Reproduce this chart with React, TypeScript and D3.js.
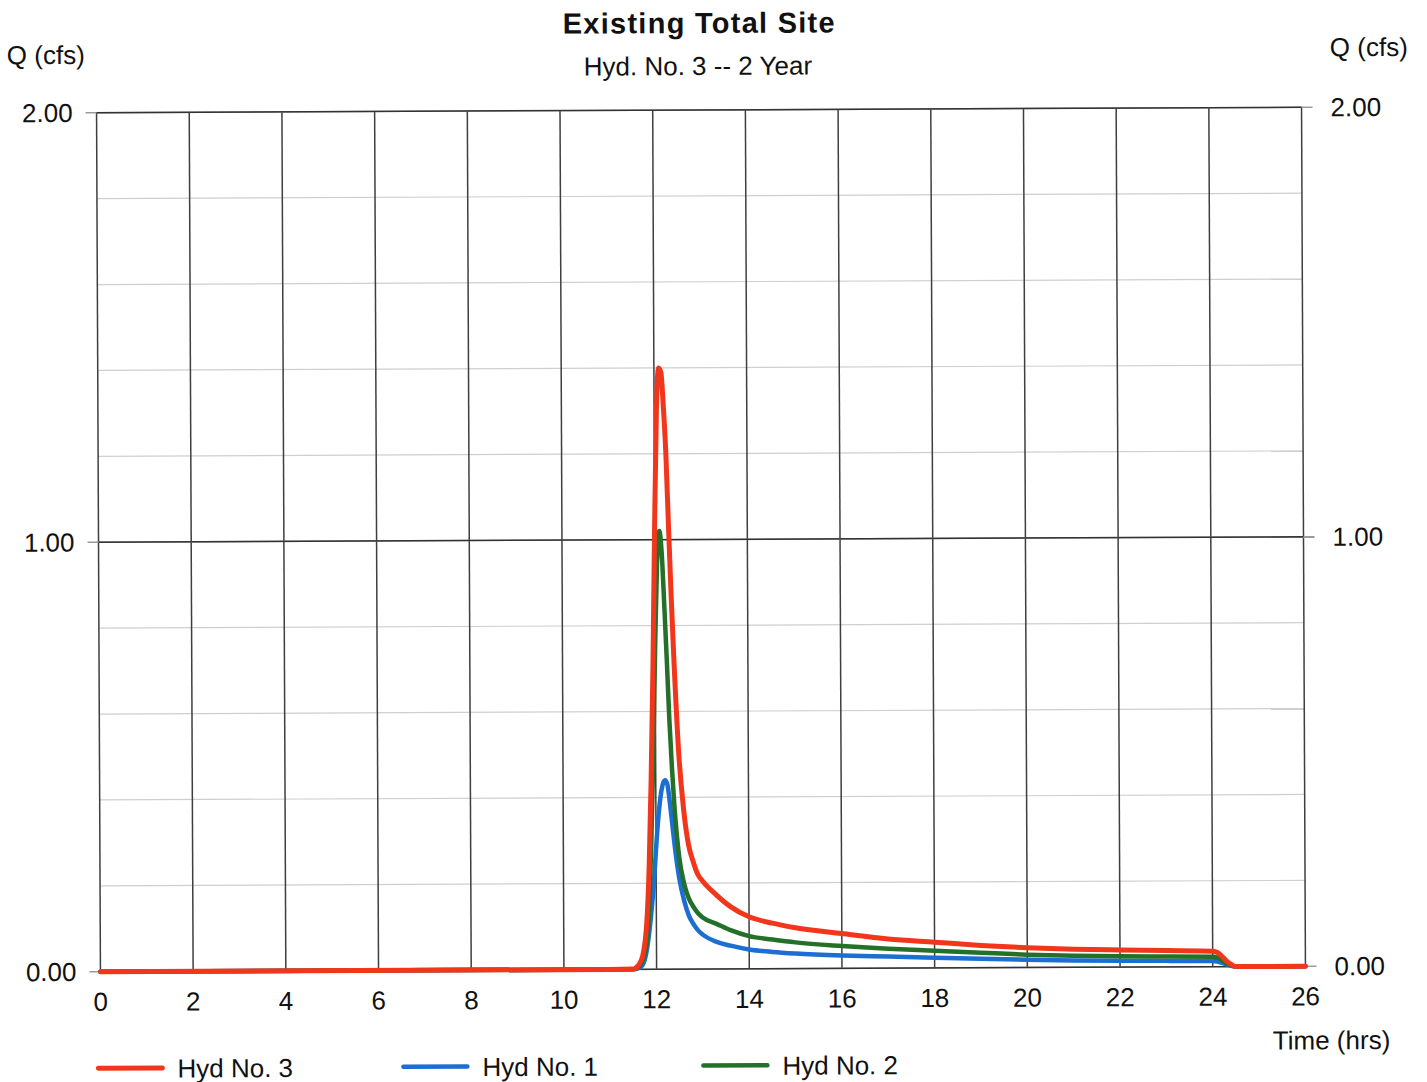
import React from "react";
import * as d3 from "d3";

// ---- data ----
const timeHrs = [
  0, 11.0, 11.5, 11.6, 11.7, 11.8, 11.85, 11.9, 11.95, 12.0, 12.05, 12.1, 12.15, 12.2, 12.25,
  12.3, 12.35, 12.4, 12.5, 12.6, 12.7, 12.8, 12.9, 13.0, 13.3, 13.6, 14.0, 14.5, 15.0, 16.0,
  17.0, 18.0, 19.0, 20.0, 21.0, 22.0, 23.0, 24.0, 24.1, 24.2, 24.3, 24.4, 24.5, 24.6, 26.0,
];
const hydNo3 = [
  0, 0, 0.001, 0.008, 0.03, 0.12, 0.24, 0.44, 0.7, 1.03, 1.3, 1.4, 1.39, 1.31, 1.2,
  1.03, 0.87, 0.73, 0.5, 0.37, 0.29, 0.25, 0.22, 0.205, 0.172, 0.145, 0.121, 0.106, 0.095, 0.081,
  0.068, 0.06, 0.052, 0.046, 0.042, 0.04, 0.038, 0.036, 0.033, 0.024, 0.013, 0.005, 0, 0, 0,
];
const hydNo1 = [
  0, 0, 0, 0.002, 0.01, 0.05, 0.09, 0.14, 0.2, 0.28, 0.35, 0.4, 0.43, 0.44, 0.43,
  0.39, 0.34, 0.29, 0.21, 0.16, 0.125, 0.105, 0.09, 0.08, 0.063, 0.054, 0.045, 0.039, 0.035, 0.03,
  0.027, 0.024, 0.021, 0.018, 0.016, 0.015, 0.014, 0.013, 0.012, 0.009, 0.005, 0.002, 0, 0, 0,
];
const hydNo2 = [
  0, 0, 0, 0.005, 0.02, 0.07, 0.15, 0.3, 0.5, 0.75, 0.95, 1.02, 0.97, 0.85, 0.72,
  0.58, 0.47, 0.38, 0.26, 0.2, 0.165, 0.145, 0.13, 0.12, 0.105, 0.09, 0.076, 0.068, 0.061, 0.052,
  0.045, 0.04, 0.035, 0.03, 0.027, 0.025, 0.024, 0.023, 0.021, 0.015, 0.008, 0.003, 0, 0, 0,
];
const xTicks = [0, 2, 4, 6, 8, 10, 12, 14, 16, 18, 20, 22, 24, 26];
const yMajorTicks = [0, 1, 2];
const yMinorTicks = [0.2, 0.4, 0.6, 0.8, 1.2, 1.4, 1.6, 1.8];
const seriesNames = ["Hyd No. 3", "Hyd No. 1", "Hyd No. 2"];
const seriesColors = ["#f2361c", "#1b6fd2", "#237028"];
const titleText = "Existing Total Site";
const subtitleText = "Hyd. No. 3 -- 2 Year";
const yAxisLabel = "Q (cfs)";
const xAxisLabel = "Time (hrs)";

const W = 1427;
const H = 1082;
const plot = { left: 98.5, right: 1303.5, top: 110, bottom: 969 };
const FONT = "'Liberation Sans', Arial, sans-serif";

export default function App() {
  const x = d3.scaleLinear().domain([0, 26]).range([plot.left, plot.right]);
  const y = d3.scaleLinear().domain([0, 2]).range([plot.bottom, plot.top]);

  const seriesValues = [hydNo3, hydNo1, hydNo2];
  const line = d3
    .line<number>()
    .x((_, i) => x(timeHrs[i]))
    .y((d) => y(d))
    .curve(d3.curveMonotoneX);

  const drawOrder = [1, 2, 0];
  const legendX = [96, 401, 701];

  return (
    <svg
      width={W}
      height={H}
      style={{ position: "absolute", left: 0, top: 0, background: "#fff" }}
      fontFamily={FONT}
    >
      <rect x={0} y={0} width={W} height={H} fill="#fff" />
      <g transform={`rotate(-0.26, 700, 540)`}>
        {/* minor horizontal grid */}
        {yMinorTicks.map((t) => (
          <line
            key={"mn" + t}
            x1={plot.left}
            x2={plot.right}
            y1={y(t)}
            y2={y(t)}
            stroke="#cfcfcf"
            strokeWidth={1.2}
          />
        ))}
        {/* vertical grid */}
        {xTicks.map((t) => (
          <line
            key={"vx" + t}
            x1={x(t)}
            x2={x(t)}
            y1={plot.top}
            y2={plot.bottom}
            stroke="#3f3f3f"
            strokeWidth={1.5}
          />
        ))}
        {/* major horizontal grid with tick stubs */}
        {yMajorTicks.map((t) => (
          <g key={"mj" + t}>
            <line
              x1={plot.left - 11}
              x2={plot.right + 11}
              y1={y(t)}
              y2={y(t)}
              stroke="#9a9a9a"
              strokeWidth={1.4}
            />
            <line
              x1={plot.left}
              x2={plot.right}
              y1={y(t)}
              y2={y(t)}
              stroke="#333"
              strokeWidth={1.5}
            />
          </g>
        ))}

        {/* series */}
        {drawOrder.map((si) => (
          <path
            key={"s" + si}
            d={line(seriesValues[si]) || ""}
            fill="none"
            stroke={seriesColors[si]}
            strokeWidth={si === 0 ? 5 : 4.5}
            strokeLinejoin="round"
            strokeLinecap="round"
          />
        ))}

        {/* left y tick labels */}
        {yMajorTicks.map((t) => (
          <text
            key={"ly" + t}
            x={plot.left - 24}
            y={y(t)}
            dy="0.35em"
            textAnchor="end"
            fontSize={26}
            fill="#111"
          >
            {d3.format(".2f")(t)}
          </text>
        ))}
        {/* right y tick labels */}
        {yMajorTicks.map((t) => (
          <text
            key={"ry" + t}
            x={plot.right + 29}
            y={y(t)}
            dy="0.35em"
            textAnchor="start"
            fontSize={26}
            fill="#111"
          >
            {d3.format(".2f")(t)}
          </text>
        ))}
        {/* x tick labels */}
        {xTicks.map((t) => (
          <text
            key={"xl" + t}
            x={x(t)}
            y={plot.bottom + 30}
            dy="0.35em"
            textAnchor="middle"
            fontSize={26}
            fill="#111"
          >
            {t}
          </text>
        ))}

        {/* axis titles */}
        <text x={9} y={52} dy="0.35em" fontSize={26} fill="#111">
          {yAxisLabel}
        </text>
        <text x={1332} y={50} dy="0.35em" fontSize={26} fill="#111">
          {yAxisLabel}
        </text>
        <text x={1388} y={1043} dy="0.35em" textAnchor="end" fontSize={26} fill="#111">
          {xAxisLabel}
        </text>

        {/* titles */}
        <text
          x={701}
          y={33}
          textAnchor="middle"
          fontSize={29}
          fontWeight="bold"
          fill="#111"
          textLength={272}
          lengthAdjust="spacing"
        >
          {titleText}
        </text>
        <text x={700} y={75} textAnchor="middle" fontSize={26} fill="#111">
          {subtitleText}
        </text>

        {/* legend */}
        {seriesNames.map((name, i) => (
          <g key={"lg" + i}>
            <line
              x1={legendX[i]}
              x2={legendX[i] + 64}
              y1={1065.5}
              y2={1065.5}
              stroke={seriesColors[i]}
              strokeWidth={i === 0 ? 5 : 4.5}
              strokeLinecap="round"
            />
            <text
              x={legendX[i] + 79}
              y={1066}
              dy="0.35em"
              fontSize={26}
              fill="#111"
            >
              {name}
            </text>
          </g>
        ))}
      </g>
    </svg>
  );
}
